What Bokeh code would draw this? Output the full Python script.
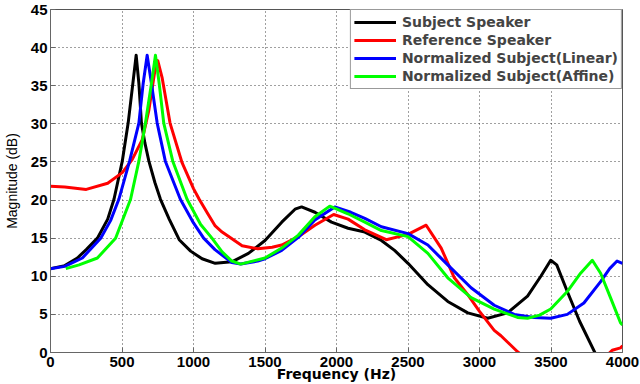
import numpy as np
from bokeh.plotting import figure
from bokeh.models import Range1d, FixedTicker, Legend, LegendItem
from bokeh.embed import file_html
from bokeh.resources import INLINE

# ---- data ----
subject_f = [0, 100, 188, 250, 328, 400, 444, 502, 543, 576, 599, 618, 636, 660, 688, 730, 769, 830, 900, 980,
             1060, 1152, 1268, 1384, 1500, 1617, 1710, 1756, 1849, 1965, 2081, 2198, 2314, 2406, 2500, 2639,
             2778, 2918, 3057, 3196, 3336, 3429, 3498, 3540, 3614, 3700, 3812]
subject_v = [11.0, 11.4, 12.4, 13.5, 15.0, 17.5, 20.1, 25.1, 30.1, 35.3, 39.0, 35.3, 30.1, 27.5, 25.1, 22.3, 20.1,
             17.5, 14.8, 13.3, 12.3, 11.7, 11.9, 13.0, 14.7, 17.1, 18.8, 19.1, 18.4, 17.1, 16.3, 15.8, 14.7, 13.4,
             11.7, 8.9, 6.7, 5.2, 4.5, 5.2, 7.4, 10.0, 12.1, 11.5, 8.0, 4.1, -0.2]

reference_f = [0, 100, 250, 400, 502, 571, 641, 688, 730, 750, 780, 836, 920, 1000, 1040, 1100, 1152, 1200, 1340,
               1450, 1550, 1617, 1733, 1849, 1980, 2081, 2198, 2348, 2500, 2627, 2732, 2824, 2918, 3000, 3103,
               3150, 3266, 3300, 3600, 3890, 3928, 3986, 4000]
reference_v = [21.8, 21.7, 21.4, 22.2, 23.6, 25.3, 27.9, 31.8, 37.0, 38.3, 36.1, 30.1, 24.9, 21.5, 20.1, 18.2,
               16.6, 15.8, 14.0, 13.6, 13.8, 14.1, 15.2, 16.7, 18.1, 17.5, 16.1, 14.8, 15.5, 16.7, 13.7, 9.8, 7.6,
               5.4, 2.9, 2.2, 0.1, -0.4, float("nan"), -0.4, 0.3, 0.6, 0.9]

linear_f = [0, 100, 223, 351, 420, 478, 553, 618, 648, 676, 706, 746, 803, 908, 1000, 1071, 1150, 1268, 1330,
            1450, 1500, 1617, 1733, 1849, 1988, 2100, 2198, 2314, 2500, 2639, 2778, 2941, 3103, 3243, 3382,
            3498, 3614, 3730, 3847, 3910, 3962, 4000]
linear_v = [11.0, 11.3, 12.4, 15.0, 17.3, 20.1, 25.1, 30.1, 35.3, 39.0, 35.3, 30.1, 25.1, 20.1, 17.0, 15.0, 13.5,
            11.8, 11.6, 12.0, 12.3, 13.4, 15.1, 17.4, 19.1, 18.4, 17.6, 16.5, 15.6, 14.1, 11.5, 8.5, 6.2, 5.0,
            4.6, 4.5, 5.0, 6.5, 9.3, 11.0, 12.0, 11.7]

affine_f = [107, 200, 328, 455, 560, 618, 664, 706, 734, 760, 792, 855, 955, 1050, 1129, 1200, 1268, 1330, 1500,
            1617, 1733, 1849, 1953, 2080, 2198, 2314, 2500, 2639, 2778, 2941, 3103, 3266, 3336, 3420, 3498, 3614,
            3707, 3789, 3847, 3916, 3986, 4000]
affine_v = [11.0, 11.5, 12.4, 15.0, 20.1, 25.1, 30.1, 35.3, 39.0, 35.3, 30.1, 25.1, 20.1, 16.8, 15.0, 13.2, 12.0,
            11.6, 12.4, 13.7, 15.4, 17.8, 19.2, 18.2, 17.1, 16.0, 15.2, 13.0, 9.8, 7.2, 5.7, 4.6, 4.5, 4.9, 5.7,
            8.0, 10.4, 12.1, 10.4, 7.2, 3.9, 3.6]

series_names = ["Subject Speaker", "Reference Speaker", "Normalized Subject(Linear)", "Normalized Subject(Affine)"]
series_colors = ["#000000", "#ff0000", "#0000ff", "#00ff00"]
x_ticks = [0, 500, 1000, 1500, 2000, 2500, 3000, 3500, 4000]
y_ticks = [0, 5, 10, 15, 20, 25, 30, 35, 40, 45]
x_title = "Frequency (Hz)"
y_title = "Magnitude (dB)"

TICK_FONT = "Liberation Sans"
TEXT_FONT = "DejaVu Sans"

p = figure(width=640, height=384, output_backend="svg", toolbar_location=None,
           x_range=Range1d(0, 4000), y_range=Range1d(0, 45),
           min_border_left=48, min_border_right=18, min_border_top=9, min_border_bottom=30)

p.background_fill_color = "white"
p.outline_line_color = "#555555"
p.outline_line_width = 1

for ax, ticks in ((p.xaxis, x_ticks), (p.yaxis, y_ticks)):
    ax.ticker = FixedTicker(ticks=ticks)
    ax.major_label_text_font = TICK_FONT
    ax.major_label_text_font_style = "bold"
    ax.major_label_text_font_size = "15px"
    ax.major_label_text_color = "black"
    ax.axis_label_text_color = "black"
    ax.axis_line_color = "#666666"
    ax.major_tick_line_color = "#666666"
    ax.major_tick_in = 5
    ax.major_tick_out = 0
    ax.minor_tick_line_color = None

p.xaxis.axis_label = x_title
p.xaxis.axis_label_text_font = TEXT_FONT
p.xaxis.axis_label_text_font_style = "bold"
p.xaxis.axis_label_text_font_size = "14px"
p.xaxis.major_label_standoff = 4
p.xaxis.axis_label_standoff = -4

p.yaxis.axis_label = y_title
p.yaxis.axis_label_text_font = TICK_FONT
p.yaxis.axis_label_text_font_style = "normal"
p.yaxis.axis_label_text_font_size = "14px"
p.yaxis.major_label_standoff = 3
p.yaxis.axis_label_standoff = 8

for g in (p.xgrid, p.ygrid):
    g.grid_line_color = "#000000"
    g.grid_line_dash = "1 3"
    g.grid_line_alpha = 0.75
    g.grid_line_width = 1

data = [(subject_f, subject_v), (reference_f, reference_v), (linear_f, linear_v), (affine_f, affine_v)]
items = []
for (fx, fy), name, color in zip(data, series_names, series_colors):
    r = p.line(fx, fy, line_color=color, line_width=3, line_join="round")
    items.append(LegendItem(label=name, renderers=[r]))

legend = Legend(items=items, location="top_right")
legend.label_text_font = TEXT_FONT
legend.label_text_font_style = "bold"
legend.label_text_font_size = "14px"
legend.label_height = 18
legend.glyph_height = 18
legend.glyph_width = 42
legend.label_standoff = 6
legend.spacing = 0
legend.padding = 3
legend.margin = 0
legend.border_line_color = "#333333"
legend.border_line_width = 1
legend.background_fill_color = "white"
legend.background_fill_alpha = 1.0
p.add_layout(legend)

open("out.html", "w").write(file_html(p, INLINE))
